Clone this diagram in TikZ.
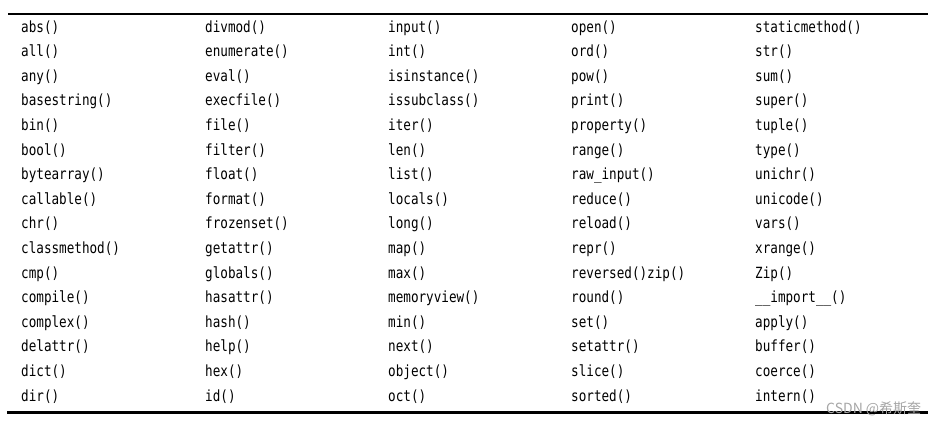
\documentclass[tikz,border=0pt]{standalone}
\usepackage{fontspec}
\setmonofont[FakeStretch=0.82]{DejaVu Sans Mono}
\newfontfamily\cjk{Noto Sans CJK SC}
\tikzset{
	fn/.style={anchor=base west, inner sep=0pt, font=\ttfamily\fontsize{15.4}{17}\selectfont},
	rule/.style={line width=2.8pt},
}

\begin{document}
\begin{tikzpicture}[x=1pt, y=-1pt]
			%%%%% START %%%%%
			\useasboundingbox (0, 0) rectangle (942, 424);
			
			\draw[rule] (8, 14) -- (928, 14);
			
			\foreach \f [count=\r] in {abs(), all(), any(), basestring(), bin(), bool(), bytearray(), callable(), chr(), classmethod(), cmp(), compile(), complex(), delattr(), dict(), dir()}
				\node[fn] (a\r) at (21, {32+24.6*(\r-1)}) {\f};
			
			\foreach \f [count=\r] in {divmod(), enumerate(), eval(), execfile(), file(), filter(), float(), format(), frozenset(), getattr(), globals(), hasattr(), hash(), help(), hex(), id()}
				\node[fn] (b\r) at (205, {32+24.6*(\r-1)}) {\f};
			
			\foreach \f [count=\r] in {input(), int(), isinstance(), issubclass(), iter(), len(), list(), locals(), long(), map(), max(), memoryview(), min(), next(), object(), oct()}
				\node[fn] (c\r) at (388, {32+24.6*(\r-1)}) {\f};
			
			\foreach \f [count=\r] in {open(), ord(), pow(), print(), property(), range(), raw\_input(), reduce(), reload(), repr(), reversed()zip(), round(), set(), setattr(), slice(), sorted()}
				\node[fn] (d\r) at (571, {32+24.6*(\r-1)}) {\f};
			
			\foreach \f [count=\r] in {staticmethod(), str(), sum(), super(), tuple(), type(), unichr(), unicode(), vars(), xrange(), Zip(), \_\_import\_\_(), apply(), buffer(), coerce(), intern()}
				\node[fn] (e\r) at (755, {32+24.6*(\r-1)}) {\f};
			
			\draw[rule] (7, 412.5) -- (928, 412.5);
			
			\node[anchor=base west, inner sep=0pt, text=black!35, font=\cjk\fontsize{14}{16}\selectfont] (mark) at (826, 413) {CSDN @希斯奎};
			
			%%%%% END %%%%%
		\end{tikzpicture}
\end{document}
